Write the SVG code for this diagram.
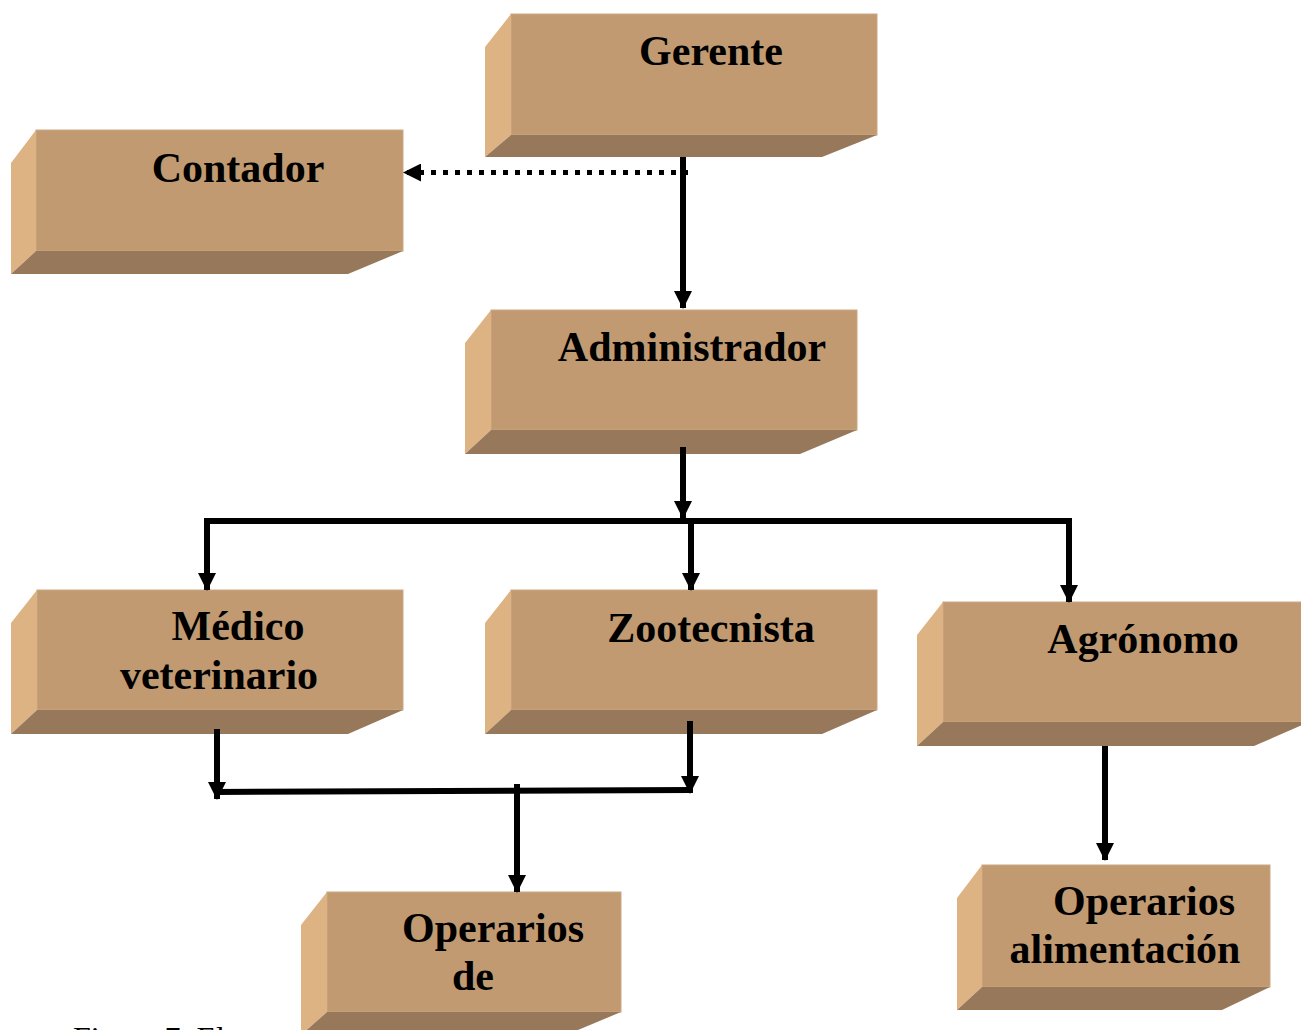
<svg xmlns="http://www.w3.org/2000/svg" width="1301" height="1030" viewBox="0 0 1301 1030">
<style>
.front{fill:#C19A71;stroke:#CBA783;stroke-width:1}
.side{fill:#DEB383}
.bottom{fill:#97785A}
.lbl{font-family:"Liberation Serif","Times New Roman",serif;font-weight:bold;font-size:42px;fill:#000;text-anchor:middle}
.cap{font-family:"Liberation Serif","Times New Roman",serif;font-size:32px;fill:#000}
.ln{fill:none;stroke:#000;stroke-width:6}
.dot{fill:none;stroke:#000;stroke-width:5;stroke-dasharray:5 7}
</style>
<defs>
<marker id="ah" viewBox="0 0 18 18" refX="17" refY="9" markerWidth="18" markerHeight="18" markerUnits="userSpaceOnUse" orient="auto">
<path d="M0,0 L18,9 L0,18 z" fill="#000"/>
</marker>
</defs>
<g id="gerente">
<rect class="front" x="511" y="14" width="366" height="121"/>
<polygon class="side" points="485,47 511,14 511,135 485,157"/>
<polygon class="bottom" points="511,135 877,135 822,157 485,157"/>
<text class="lbl" x="711" y="65">Gerente</text>
</g>
<g id="contador">
<rect class="front" x="36" y="130" width="367" height="121"/>
<polygon class="side" points="11,163 36,130 36,251 11,274"/>
<polygon class="bottom" points="36,251 403,251 348,274 11,274"/>
<text class="lbl" x="238" y="182">Contador</text>
</g>
<g id="administrador">
<rect class="front" x="491" y="310" width="366" height="120"/>
<polygon class="side" points="465,343 491,310 491,430 465,454"/>
<polygon class="bottom" points="491,430 857,430 800,454 465,454"/>
<text class="lbl" x="692" y="361">Administrador</text>
</g>
<g id="medico">
<rect class="front" x="37" y="590" width="366" height="120"/>
<polygon class="side" points="11,623 37,590 37,710 11,734"/>
<polygon class="bottom" points="37,710 403,710 348,734 11,734"/>
<text class="lbl" x="238" y="640">Médico</text>
<text class="lbl" x="219" y="689">veterinario</text>
</g>
<g id="zootecnista">
<rect class="front" x="511" y="590" width="366" height="120"/>
<polygon class="side" points="485,623 511,590 511,710 485,734"/>
<polygon class="bottom" points="511,710 877,710 822,734 485,734"/>
<text class="lbl" x="711" y="642">Zootecnista</text>
</g>
<g id="agronomo">
<rect class="front" x="943" y="602" width="366" height="120"/>
<polygon class="side" points="917,635 943,602 943,722 917,746"/>
<polygon class="bottom" points="943,722 1309,722 1254,746 917,746"/>
<text class="lbl" x="1143" y="653">Agrónomo</text>
</g>
<g id="operarios-alimentacion">
<rect class="front" x="982" y="865" width="288" height="122"/>
<polygon class="side" points="957,898 982,865 982,987 957,1010"/>
<polygon class="bottom" points="982,987 1270,987 1222,1010 957,1010"/>
<text class="lbl" x="1144" y="915">Operarios</text>
<text class="lbl" x="1125" y="963">alimentación</text>
</g>
<g id="operarios-de">
<rect class="front" x="327" y="892" width="294" height="120"/>
<polygon class="side" points="301,925 327,892 327,1012 301,1035"/>
<polygon class="bottom" points="327,1012 621,1012 566,1035 301,1035"/>
<text class="lbl" x="493" y="942">Operarios</text>
<text class="lbl" x="473" y="990">de</text>
</g>
<g id="connectors">
<path class="dot" d="M688,172.5 H404" marker-end="url(#ah)"/>
<path class="ln" d="M683,157 V308" marker-end="url(#ah)"/>
<path class="ln" d="M683,447 V518" marker-end="url(#ah)"/>
<path class="ln" d="M204,521 H1072"/>
<path class="ln" d="M207,518 V590" marker-end="url(#ah)"/>
<path class="ln" d="M691,521 V590" marker-end="url(#ah)"/>
<path class="ln" d="M1069,518 V602" marker-end="url(#ah)"/>
<path class="ln" d="M217,729 V799" marker-end="url(#ah)"/>
<path class="ln" d="M690,721 V793" marker-end="url(#ah)"/>
<path class="ln" d="M214,792 L693,790"/>
<path class="ln" d="M517,784 V892" marker-end="url(#ah)"/>
<path class="ln" d="M1105,746 V860" marker-end="url(#ah)"/>
</g>
<text class="cap" x="73" y="1049">Figura 7. El</text>
</svg>
